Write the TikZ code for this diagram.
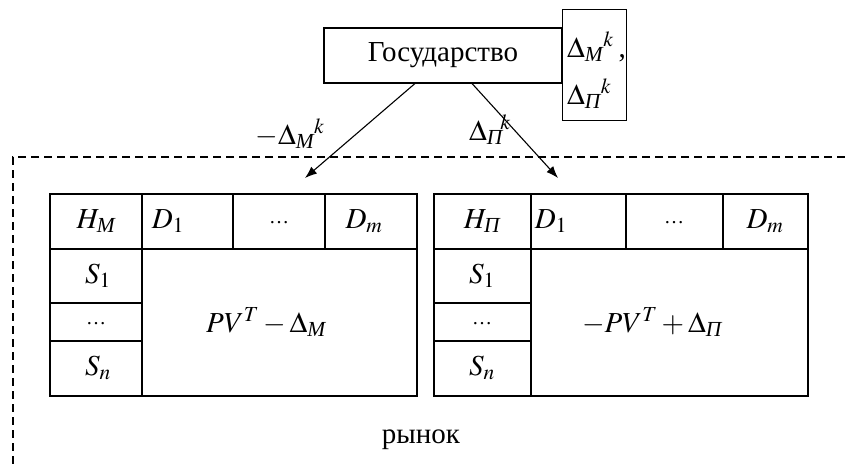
\documentclass[tikz,border=0pt]{standalone}
\usepackage{amsmath}
\usepackage{mathptmx}
\usepackage[no-math]{fontspec}
\setmainfont{Liberation Serif}
\usetikzlibrary{arrows.meta}

\newcommand{\cyrM}{\text{\itshape М}}
\newcommand{\cyrP}{\text{\itshape П}}

\begin{document}
\begin{tikzpicture}[x=1pt,y=-1pt,font=\fontsize{29}{34}\selectfont,
  grid/.style={line width=1.1pt},
  cell/.style={inner sep=0pt},
  dots/.style={inner sep=0pt,font=\fontsize{20}{24}\selectfont},
  flow/.style={-{Latex[length=12pt,width=9pt]},line width=1.1pt}]
\useasboundingbox (0,0) rectangle (845,466);
% state and its transfers
\node[draw,grid,minimum width=238pt,minimum height=55pt] (gov) at (443,55.5) {Государство};
\node[draw,grid,anchor=north west,minimum width=64pt,minimum height=111pt] (dlt) at (562,9) {};
\node[cell,anchor=west] (dltM) at (567,47) {$\Delta_{\cyrM}{}^{k}$\,,};
\node[cell,anchor=west] (dltP) at (567,94) {$\Delta_{\cyrP}{}^{k}$};
\coordinate (inM) at (305,178);
\coordinate (inP) at (558,178);
\draw[flow] (gov.225) -- (inM);
\draw[flow] (gov.-44) -- (inP);
\node[cell] (lblM) at (290,134) {$-\Delta_{\cyrM}{}^{k}$};
\node[cell] (lblP) at (490,130) {$\Delta_{\cyrP}{}^{\!k}$};
% market border
\draw[line width=1.8pt,dash pattern=on 8pt off 5pt] (845,157) -- (13,157) -- (13,466);
\node[cell] (mkt) at (421,440) {рынок};
% left table
\draw[grid] (50,194) rectangle (417,396);
\draw[grid] (50,249) -- (417,249);
\draw[grid] (142,194) -- (142,396);
\draw[grid] (233,194) -- (233,249);
\draw[grid] (325,194) -- (325,249);
\draw[grid] (50,303) -- (142,303);
\draw[grid] (50,341) -- (142,341);
\node[cell] (hM) at (96,221) {$H_{\cyrM}$};
\node[cell] (d1M) at (168,221) {$D_{1}$};
\node[dots] (ddM) at (279,223) {\ldots};
\node[cell] (dmM) at (364,221) {$D_{m}$};
\node[cell] (s1M) at (98,276) {$S_{1}$};
\node[dots] (ssM) at (96,324) {\ldots};
\node[cell] (snM) at (98,368) {$S_{n}$};
\node[cell] (mtxM) at (266,322) {$PV^{T}-\Delta_{\cyrM}$};
% right table
\draw[grid] (434,194) rectangle (808,396);
\draw[grid] (434,249) -- (808,249);
\draw[grid] (531,194) -- (531,396);
\draw[grid] (626,194) -- (626,249);
\draw[grid] (723,194) -- (723,249);
\draw[grid] (434,303) -- (531,303);
\draw[grid] (434,341) -- (531,341);
\node[cell] (hP) at (482,221) {$H_{\cyrP}$};
\node[cell] (d1P) at (551,221) {$D_{1}$};
\node[dots] (ddP) at (674,223) {\ldots};
\node[cell] (dmP) at (765,221) {$D_{m}$};
\node[cell] (s1P) at (482,276) {$S_{1}$};
\node[dots] (ssP) at (482,324) {\ldots};
\node[cell] (snP) at (482,368) {$S_{n}$};
\node[cell] (mtxP) at (652,322) {$-PV^{T}+\Delta_{\cyrP}$};
\end{tikzpicture}
\end{document}
